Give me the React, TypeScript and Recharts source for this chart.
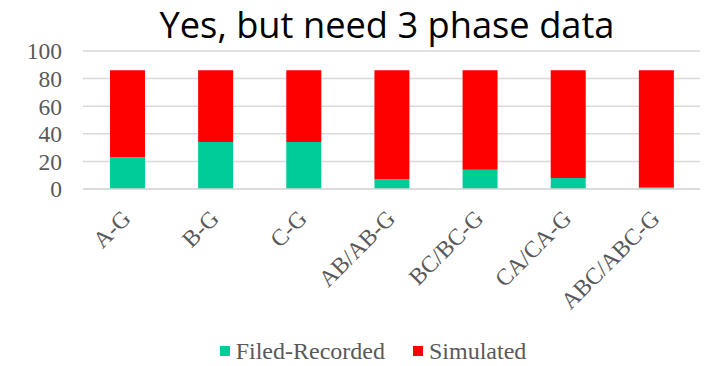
import { Bar, BarChart, CartesianGrid, Legend, XAxis, YAxis } from 'recharts';

const categories = ['A-G', 'B-G', 'C-G', 'AB/AB-G', 'BC/BC-G', 'CA/CA-G', 'ABC/ABC-G'];
const recorded = [23, 34, 34, 7, 14, 8, 1];
const simulated = [63, 52, 52, 79, 72, 78, 85];
const yTicks = [0, 20, 40, 60, 80, 100];

const data = categories.map((c, i) => ({ name: c, recorded: recorded[i], simulated: simulated[i] }));

const GREEN = '#00CC99';
const RED = '#FF0000';
const TEXT = '#595959';
const SERIF = '"Liberation Serif", "Times New Roman", serif';

function CategoryTick({ x, y, payload }: any) {
  const tx = x + 5;
  const ty = y + 31;
  return (
    <text
      x={tx}
      y={ty}
      textAnchor="end"
      transform={`rotate(-45, ${tx}, ${ty})`}
      fill={TEXT}
      fontSize={23.5}
      fontFamily={SERIF}
    >
      {payload.value}
    </text>
  );
}

function ChartLegend() {
  const items = [
    { label: 'Filed-Recorded', color: GREEN },
    { label: 'Simulated', color: RED },
  ];
  return (
    <div style={{ display: 'flex', justifyContent: 'center', gap: 28, paddingLeft: 46, paddingTop: 13, height: 30, alignItems: 'center' }}>
      {items.map((it) => (
        <div key={it.label} style={{ display: 'flex', alignItems: 'center' }}>
          <span style={{ width: 10, height: 10, background: it.color, marginRight: 6, display: 'inline-block' }} />
          <span style={{ color: TEXT, fontSize: 24, fontFamily: SERIF }}>{it.label}</span>
        </div>
      ))}
    </div>
  );
}

export default function App() {
  return (
    <div style={{ position: 'relative', width: 708, height: 366, background: '#fff' }}>
      <style>{'body{margin:0}'}</style>
      <BarChart width={708} height={366} data={data} margin={{ top: 51, right: 8, left: 0, bottom: 0 }} barSize={35}>
        <CartesianGrid horizontal vertical={false} stroke="#D9D9D9" strokeWidth={1.5} />
        <XAxis
          dataKey="name"
          tickLine={false}
          axisLine={{ stroke: '#D9D9D9', strokeWidth: 1.5 }}
          tickSize={0}
          tickMargin={0}
          interval={0}
          height={134}
          tick={<CategoryTick />}
        />
        <YAxis
          domain={[0, 100]}
          ticks={yTicks}
          interval={0}
          tickLine={false}
          axisLine={false}
          tickSize={0}
          tickMargin={21}
          width={83}
          tick={{ fill: TEXT, fontSize: 23.5, fontFamily: SERIF }}
        />
        <Legend verticalAlign="bottom" content={<ChartLegend />} />
        <Bar dataKey="recorded" name="Filed-Recorded" stackId="a" fill={GREEN} isAnimationActive={false} />
        <Bar dataKey="simulated" name="Simulated" stackId="a" fill={RED} isAnimationActive={false} />
      </BarChart>
      <svg width={708} height={55} style={{ position: 'absolute', left: 0, top: 0, pointerEvents: 'none' }}>
        <text
          x={387}
          y={38}
          textAnchor="middle"
          fontSize={36}
          fontFamily='"Open Sans", "Noto Sans", sans-serif'
          fill="#000"
          textLength={455}
          lengthAdjust="spacingAndGlyphs"
        >
          Yes, but need 3 phase data
        </text>
      </svg>
    </div>
  );
}
